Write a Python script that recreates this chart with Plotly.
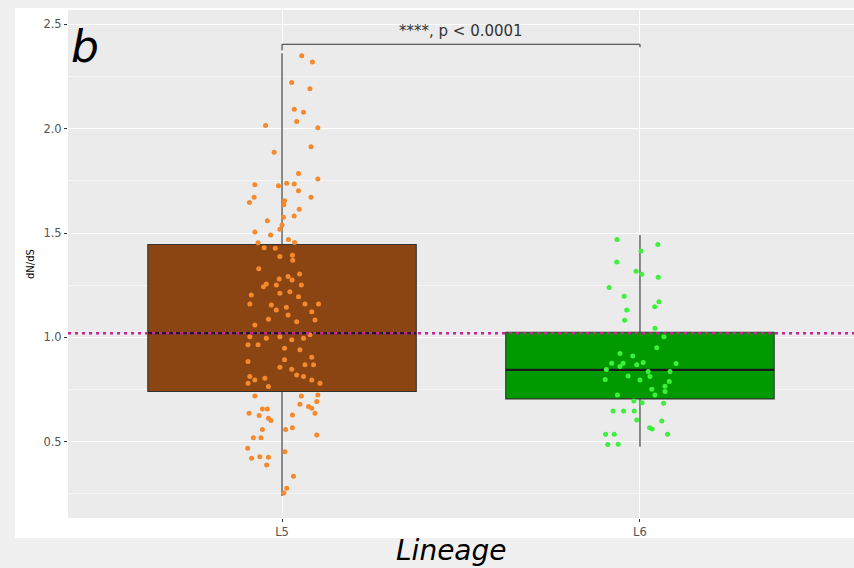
import plotly.graph_objects as go

# ---------------- data ----------------
categories = ["L5", "L6"]
cat_pos = [0, 1]

# box statistics (lower whisker, q1, median, q3, upper whisker)
box_lower = [0.240, 0.476]
box_q1 = [0.740, 0.705]
box_median = [1.020, 0.844]
box_q3 = [1.445, 1.024]
box_upper = [2.362, 1.491]

l5_vals = [2.350, 2.320, 2.221, 2.192, 2.093, 2.079, 2.034, 2.015, 2.005, 1.913,
           1.887, 1.785, 1.759, 1.731, 1.726, 1.739, 1.735, 1.703, 1.672, 1.672,
           1.646, 1.655, 1.635, 1.614, 1.581, 1.559, 1.576, 1.539, 1.518, 1.505,
           1.491, 1.469, 1.453, 1.454, 1.429, 1.427, 1.387, 1.393, 1.370, 1.329,
           1.303, 1.291, 1.280, 1.275, 1.256, 1.243, 1.251, 1.251, 1.211, 1.219,
           1.203, 1.195, 1.160, 1.155, 1.144, 1.160, 1.160, 1.131, 1.123, 1.087,
           1.107, 1.075, 1.059, 1.083, 1.003, 0.996, 1.003, 0.988, 0.996, 1.012,
           0.964, 0.964, 0.948, 0.940, 0.905, 0.884, 0.892, 0.868, 0.857, 0.847,
           0.868, 0.812, 0.820, 0.796, 0.804, 0.812, 0.796, 0.780, 0.764, 0.780,
           0.719, 0.719, 0.724, 0.692, 0.679, 0.657, 0.657, 0.660, 0.636, 0.625,
           0.636, 0.628, 0.612, 0.601, 0.668, 0.558, 0.558, 0.567, 0.532, 0.519,
           0.519, 0.468, 0.452, 0.420, 0.428, 0.425, 0.388, 0.334, 0.277, 0.254]
l5_jitter = [0.055, 0.085, 0.027, 0.078, 0.034, 0.060, 0.041, -0.046, 0.100, 0.081,
             -0.022, 0.046, 0.100, -0.076, -0.010, 0.013, 0.034, 0.046, 0.081, -0.078,
             -0.091, 0.007, 0.005, 0.048, 0.034, -0.041, 0.004, 0.000, -0.006, -0.076,
             -0.032, 0.018, -0.067, 0.035, -0.050, -0.019, -0.006, 0.029, 0.030, -0.065,
             0.049, 0.017, -0.008, 0.028, -0.044, -0.052, -0.016, 0.054, -0.006, 0.022,
             -0.086, 0.046, -0.090, -0.030, 0.012, 0.064, 0.102, -0.016, 0.083, -0.038,
             0.017, 0.041, -0.076, 0.092, -0.090, -0.044, -0.006, 0.027, 0.060, 0.078,
             -0.095, -0.067, 0.007, 0.050, 0.083, -0.095, 0.007, 0.088, -0.006, 0.027,
             0.064, -0.090, 0.041, -0.076, -0.048, 0.060, 0.083, 0.106, -0.038, -0.095,
             -0.076, 0.054, 0.100, 0.097, 0.050, -0.055, -0.041, 0.083, -0.092, -0.064,
             0.092, 0.029, -0.038, -0.031, 0.074, -0.055, 0.010, 0.029, 0.097, -0.080,
             -0.059, -0.096, 0.008, -0.085, -0.062, -0.038, -0.043, 0.032, 0.013, 0.005]

l6_vals = [1.469, 1.445, 1.414, 1.361, 1.317, 1.302, 1.288, 1.239, 1.197, 1.170,
           1.146, 1.131, 1.082, 1.044, 1.003, 0.950, 0.922, 0.911, 0.876, 0.876,
           0.868, 0.879, 0.846, 0.860, 0.836, 0.874, 0.836, 0.815, 0.796, 0.798,
           0.812, 0.788, 0.751, 0.765, 0.740, 0.724, 0.724, 0.695, 0.687, 0.684,
           0.647, 0.647, 0.647, 0.604, 0.599, 0.566, 0.561, 0.535, 0.535, 0.535,
           0.486, 0.488]
l6_jitter = [-0.064, 0.050, 0.003, -0.065, -0.011, 0.005, 0.051, -0.086, -0.044, 0.053,
             0.041, -0.037, -0.043, 0.042, 0.067, 0.047, -0.056, -0.020, -0.047, -0.079,
             -0.009, 0.009, -0.094, -0.056, 0.023, 0.101, 0.084, -0.033, 0.000, -0.097,
             0.028, 0.082, 0.033, 0.070, 0.070, -0.063, 0.042, -0.017, 0.006, 0.066,
             -0.075, -0.046, -0.016, -0.009, 0.061, 0.027, 0.034, -0.096, -0.072, 0.077,
             -0.090, -0.061]

ref_line = 1.02
sig_label = "****, p < 0.0001"
sig_y = 2.405
y_ticks = [0.5, 1.0, 1.5, 2.0, 2.5]
y_ticklabels = ["0.5", "1.0", "1.5", "2.0", "2.5"]

# ---------------- style ----------------
box_fill = ["#8B4513", "#009A00"]
pt_color = ["#F5892B", "#3CF03C"]
FONT = "DejaVu Sans"
BOX_W = 0.75

fig = go.Figure()

for i in range(2):
    fig.add_trace(go.Box(
        x=[cat_pos[i]], q1=[box_q1[i]], median=[box_median[i]], q3=[box_q3[i]],
        lowerfence=[box_lower[i]], upperfence=[box_upper[i]],
        width=BOX_W, whiskerwidth=0, fillcolor=box_fill[i],
        line=dict(color="#333333", width=1.1), boxpoints=False,
        showlegend=False, hoverinfo="skip"))
    # thicker median line (ggplot style)
    fig.add_trace(go.Scatter(
        x=[cat_pos[i] - BOX_W / 2, cat_pos[i] + BOX_W / 2],
        y=[box_median[i], box_median[i]], mode="lines",
        line=dict(color="#1a1a1a", width=2.2), showlegend=False, hoverinfo="skip"))

fig.add_trace(go.Scatter(
    x=[cat_pos[0] + j for j in l5_jitter], y=l5_vals, mode="markers",
    marker=dict(color=pt_color[0], size=5, line=dict(width=0)),
    showlegend=False))
fig.add_trace(go.Scatter(
    x=[cat_pos[1] + j for j in l6_jitter], y=l6_vals, mode="markers",
    marker=dict(color=pt_color[1], size=5, line=dict(width=0)),
    showlegend=False))

shapes = [
    # white panel behind plot
    dict(type="rect", xref="paper", yref="paper", x0=-0.0674, x1=1.02,
         y0=-0.0394, y1=1.004, fillcolor="white", line=dict(width=0), layer="below"),
    # grey plotting panel
    dict(type="rect", xref="paper", yref="paper", x0=0, x1=1.01,
         y0=0, y1=1, fillcolor="#EBEBEB", line=dict(width=0), layer="below"),
    # reference dotted line
    dict(type="line", xref="paper", yref="y", x0=0, x1=1, y0=ref_line, y1=ref_line,
         line=dict(color="#CC2299", width=2.5, dash="3px,4px"), layer="above"),
    # significance bracket
    dict(type="line", xref="x", yref="y", x0=cat_pos[0], x1=cat_pos[1], y0=sig_y, y1=sig_y,
         line=dict(color="#333333", width=1.1)),
    dict(type="line", xref="x", yref="y", x0=cat_pos[0], x1=cat_pos[0], y0=sig_y, y1=sig_y - 0.03,
         line=dict(color="#333333", width=1.1)),
    dict(type="line", xref="x", yref="y", x0=cat_pos[1], x1=cat_pos[1], y0=sig_y, y1=sig_y - 0.015,
         line=dict(color="#333333", width=1.1)),
]

annotations = [
    dict(text=sig_label, x=(cat_pos[0] + cat_pos[1]) / 2, y=2.466, xref="x", yref="y",
         showarrow=False, font=dict(family=FONT, size=15, color="#333333"),
         xanchor="center", yanchor="middle"),
    dict(text="<i>b</i>", x=0.001, y=0.929, xref="paper", yref="paper",
         showarrow=False, font=dict(family=FONT, size=44, color="black"),
         xanchor="left", yanchor="middle"),
    dict(text="<i>Lineage</i>", x=0.4885, y=-0.063, xref="paper", yref="paper",
         showarrow=False, font=dict(family=FONT, size=28, color="black"),
         xanchor="center", yanchor="middle"),
    dict(text="dN/dS", x=-0.0483, y=0.5, xref="paper", yref="paper", textangle=-90,
         showarrow=False, font=dict(family=FONT, size=10, color="black"),
         xanchor="center", yanchor="middle"),
]

fig.update_layout(
    width=854, height=568,
    margin=dict(l=68, r=0, t=10, b=50, pad=0),
    paper_bgcolor="#F0F0F0",
    plot_bgcolor="rgba(0,0,0,0)",
    shapes=shapes, annotations=annotations,
    font=dict(family=FONT),
    showlegend=False,
)
fig.update_xaxes(
    range=[-0.598, 1.598], tickmode="array", tickvals=cat_pos, ticktext=categories,
    showgrid=True, gridcolor="white", gridwidth=1.1, zeroline=False,
    ticks="outside", ticklen=3, tickcolor="#333333", tickwidth=1,
    tickfont=dict(family=FONT, size=11.5, color="#555555"), showline=False)
fig.update_yaxes(
    range=[0.134, 2.569], tickmode="array", tickvals=y_ticks, ticktext=y_ticklabels,
    showgrid=True, gridcolor="white", gridwidth=1.1, zeroline=False,
    ticks="outside", ticklen=3, tickcolor="#333333", tickwidth=1,
    tickfont=dict(family=FONT, size=11.5, color="#555555"), showline=False,
    minor=dict(tickmode="array", tickvals=[0.25, 0.75, 1.25, 1.75, 2.25],
               showgrid=True, gridcolor="#F5F5F5", gridwidth=0.6, ticks=""))

fig.write_html("out.html")
